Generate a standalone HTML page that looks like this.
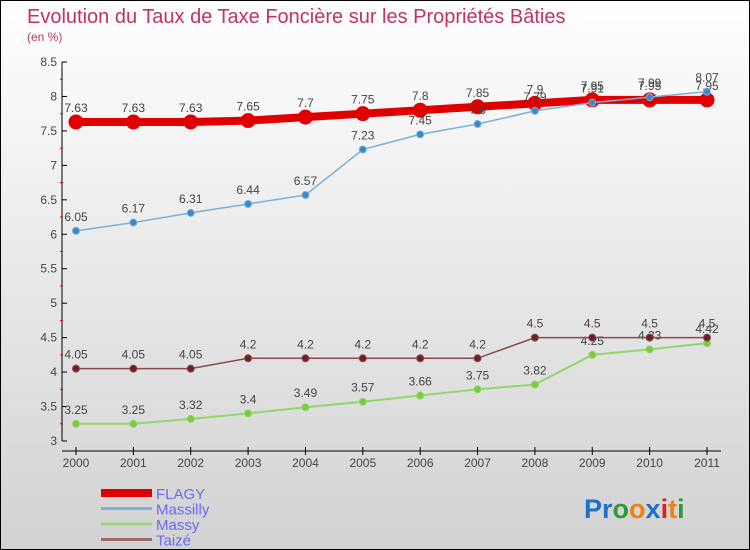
<!DOCTYPE html>
<html><head><meta charset="utf-8"><style>
body{margin:0}
#c{width:750px;height:550px;position:relative;box-sizing:border-box;border:1px solid #000;background:linear-gradient(#fff,#d2d2d2);font-family:"Liberation Sans",sans-serif;overflow:hidden}
svg text{font-family:"Liberation Sans",sans-serif}
</style></head><body>
<div id="c">
<svg id="s" width="750" height="550">
<text x="26" y="22" font-size="20" fill="#c2335f">Evolution du Taux de Taxe Foncière sur les Propriétés Bâties</text>
<text x="26" y="40" font-size="12" fill="#c2335f">(en %)</text>
<g id="g"></g>
<text x="583" y="517" font-size="27" font-weight="bold"><tspan fill="#1a73c9">Pr</tspan><tspan fill="#2a9a3a">o</tspan><tspan fill="#f08010">o</tspan><tspan fill="#1a73c9">x</tspan><tspan fill="#e02020">i</tspan><tspan fill="#f08010">t</tspan><tspan fill="#2a9a3a">i</tspan></text>
</svg></div>
<script>
const years=["2000","2001","2002","2003","2004","2005","2006","2007","2008","2009","2010","2011"];
const flagy=[7.63,7.63,7.63,7.65,7.7,7.75,7.8,7.85,7.9,7.95,7.95,7.95];
const massilly=[6.05,6.17,6.31,6.44,6.57,7.23,7.45,7.6,7.79,7.91,7.99,8.07];
const massy=[3.25,3.25,3.32,3.4,3.49,3.57,3.66,3.75,3.82,4.25,4.33,4.42];
const taize=[4.05,4.05,4.05,4.2,4.2,4.2,4.2,4.2,4.5,4.5,4.5,4.5];
const yTicks=[3,3.5,4,4.5,5,5.5,6,6.5,7,7.5,8,8.5];
const NS="http://www.w3.org/2000/svg";
const g=document.getElementById('g');
const X=i=>75+i*(631/11);
const Y=v=>440-(v-3)*(379/5.5);
function el(t,a){const e=document.createElementNS(NS,t);for(const k in a)e.setAttribute(k,a[k]);g.appendChild(e);return e;}
let ax=el('line',{x1:61,y1:61,x2:61,y2:440,stroke:'#000'});

let bx=el('line',{x1:61,y1:450,x2:720,y2:450,stroke:'#000'});

yTicks.forEach(v=>{
 el('line',{x1:61,y1:Y(v),x2:66,y2:Y(v),stroke:'#000'});
 if(v<8.5)el('line',{x1:59,y1:Y(v+0.25),x2:62,y2:Y(v+0.25),stroke:'#e00'});
 const t=el('text',{x:56,y:Y(v)+4,'font-size':12,fill:'#444','text-anchor':'end'});t.textContent=String(v);
 
});
years.forEach((y,i)=>{
 el('line',{x1:X(i),y1:446,x2:X(i),y2:454,stroke:'#000'});
 const t=el('text',{x:X(i),y:466,'font-size':12,fill:'#444','text-anchor':'middle'});t.textContent=y;
 
});
function series(name,d,color,w,r,fill){
 const p=el('polyline',{points:d.map((v,i)=>X(i)+','+Y(v)).join(' '),fill:'none',stroke:color,'stroke-width':w});
 
 d.forEach((v,i)=>{
  const c=el('circle',{cx:X(i),cy:Y(v),r:r,fill:fill,stroke:color,'stroke-width':1});
  
  const t=el('text',{x:X(i),y:Y(v)-10,'font-size':12,fill:'#444','text-anchor':'middle'});t.textContent=String(v);
  
 });
}
series('massy',massy,'#8fd66b',2,3.5,'#7ccc3a');
series('taize',taize,'#8a4a4a',1.5,3.5,'#6b1f2a');
series('flagy',flagy,'#e00000',8,7,'#e00000');
series('massilly',massilly,'#7ab0d8',1.5,3.5,'#3a88c8');
const leg=[['FLAGY','#e00000',8],['Massilly','#7ab0d8',3],['Massy','#9bd67a',3],['Taizé','#9a6a6a',3]];
leg.forEach((l,i)=>{
 const y=492+i*15.5;
 const ln=el('line',{x1:100,y1:y,x2:151,y2:y,stroke:l[1],'stroke-width':l[2]});
 
 const t=el('text',{x:155,y:y+6,'font-size':15,fill:'#6a6aee'});t.textContent=l[0];
 
});
</script>
</body></html>
